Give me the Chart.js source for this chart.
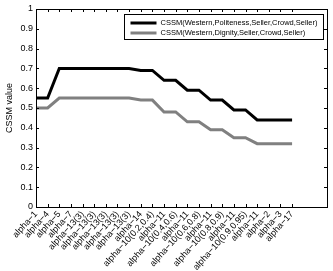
<!DOCTYPE html>
<html lang="en">
<head>
    <meta charset="UTF-8">
    <title>CSSM value</title>
    <script src="https://cdn.jsdelivr.net/npm/chart.js"></script>
    <style>
        body { margin: 0; background: #fff; }
        #wrap { width: 333px; height: 271px; position: relative; }
    </style>
</head>
<body>
    <div id="wrap"><canvas id="myChart"></canvas></div>

    <script>
        const categories = [
            'alpha\u22121', 'alpha\u22124', 'alpha\u22125', 'alpha\u22127',
            'alpha\u221213(3)', 'alpha\u221213(3)', 'alpha\u221213(3)', 'alpha\u221213(3)', 'alpha\u221213(3)',
            'alpha\u221214', 'alpha\u221210(0.2,0.4)', 'alpha\u221211',
            'alpha\u221210(0.4,0.6)', 'alpha\u221211', 'alpha\u221210(0.6,0.8)', 'alpha\u221211',
            'alpha\u221210(0.8,0.9)', 'alpha\u221211', 'alpha\u221210(0.9,0.95)', 'alpha\u221211',
            'alpha\u22122', 'alpha\u22123', 'alpha\u221217'
        ];
        const politeness = [0.55, 0.55, 0.70, 0.70, 0.70, 0.70, 0.70, 0.70, 0.70, 0.69, 0.69, 0.64,
                            0.64, 0.59, 0.59, 0.54, 0.54, 0.49, 0.49, 0.44, 0.44, 0.44, 0.44];
        const dignity = [0.50, 0.50, 0.55, 0.55, 0.55, 0.55, 0.55, 0.55, 0.55, 0.54, 0.54, 0.48,
                         0.48, 0.43, 0.43, 0.39, 0.39, 0.35, 0.35, 0.32, 0.32, 0.32, 0.32];
        const seriesNames = ['CSSM(Western,Politeness,Seller,Crowd,Seller)', 'CSSM(Western,Dignity,Seller,Crowd,Seller)'];

        const FONT = 'Liberation Sans, Arial, Helvetica, sans-serif';

        // frame, inward tick marks and the boxed legend (matlab look)
        const matlabAxes = {
            id: 'matlabAxes',
            afterDraw(chart) {
                const ctx = chart.ctx;
                const a = chart.chartArea;
                const xs = chart.scales.x, ys = chart.scales.y;
                ctx.save();
                ctx.strokeStyle = '#000';
                ctx.lineWidth = 1;
                ctx.beginPath();
                xs.ticks.forEach(t => {
                    const px = Math.round(xs.getPixelForValue(t.value)) + 0.5;
                    ctx.moveTo(px, a.bottom); ctx.lineTo(px, a.bottom - 3);
                    ctx.moveTo(px, a.top); ctx.lineTo(px, a.top + 3);
                });
                ys.ticks.forEach(t => {
                    const py = Math.round(ys.getPixelForValue(t.value)) + 0.5;
                    ctx.moveTo(a.left, py); ctx.lineTo(a.left + 3, py);
                    ctx.moveTo(a.right, py); ctx.lineTo(a.right - 3, py);
                });
                ctx.stroke();
                ctx.strokeRect(Math.round(a.left) + 0.5, Math.round(a.top) + 0.5,
                               Math.round(a.right - a.left), Math.round(a.bottom - a.top));

                // legend
                ctx.font = '7.5px ' + FONT;
                const ds = chart.data.datasets;
                const tw = Math.max(...ds.map(d => ctx.measureText(d.label).width));
                const w = Math.round(36 + tw + 6), h = 25;
                const lx = Math.round(a.right - 4 - w) + 0.5, ly = Math.round(a.top + 5) + 0.5;
                ctx.fillStyle = '#fff';
                ctx.fillRect(lx, ly, w, h);
                ctx.strokeRect(lx, ly, w, h);
                ds.forEach((d, i) => {
                    const y = ly + 8.5 + i * 10;
                    ctx.strokeStyle = d.borderColor;
                    ctx.lineWidth = d.borderWidth;
                    ctx.beginPath();
                    ctx.moveTo(lx + 6, y); ctx.lineTo(lx + 32, y);
                    ctx.stroke();
                    ctx.fillStyle = '#000';
                    ctx.textBaseline = 'middle';
                    ctx.fillText(d.label, lx + 36, y);
                });
                ctx.restore();
            }
        };

        const ctx = document.getElementById('myChart').getContext('2d');
        new Chart(ctx, {
            type: 'line',
            data: {
                datasets: [
                    {
                        label: seriesNames[0],
                        data: politeness.map((v, i) => ({ x: i, y: v })),
                        borderColor: '#000000',
                        borderWidth: 3
                    },
                    {
                        label: seriesNames[1],
                        data: dignity.map((v, i) => ({ x: i, y: v })),
                        borderColor: '#808080',
                        borderWidth: 3
                    }
                ]
            },
            options: {
                responsive: true,
                maintainAspectRatio: false,
                animation: false,
                devicePixelRatio: 1,
                layout: { padding: { top: 9, right: 6, left: 0, bottom: 0 } },
                elements: {
                    point: { radius: 0 },
                    line: { tension: 0, borderJoinStyle: 'miter', borderCapStyle: 'butt', fill: false }
                },
                plugins: {
                    legend: { display: false },
                    tooltip: { enabled: false }
                },
                scales: {
                    x: {
                        type: 'linear',
                        position: 'bottom',
                        min: 0,
                        max: 25,
                        afterBuildTicks: s => {
                            s.ticks = categories.map((_, i) => ({ value: i }));
                        },
                        afterFit: s => { s.height = 64; },
                        grid: { display: false, drawTicks: false },
                        border: { display: false },
                        ticks: {
                            autoSkip: false,
                            maxRotation: 48,
                            minRotation: 48,
                            padding: 2,
                            color: '#000',
                            font: { family: FONT, size: 9 },
                            callback: v => categories[v] ?? ''
                        }
                    },
                    y: {
                        min: 0,
                        max: 1,
                        afterFit: s => { s.width = 36; },
                        grid: { display: false, drawTicks: false },
                        border: { display: false },
                        ticks: {
                            stepSize: 0.1,
                            padding: 3,
                            color: '#000',
                            font: { family: FONT, size: 9 },
                            callback: v => String(Number(v.toFixed(1)))
                        },
                        title: {
                            display: true,
                            text: 'CSSM value',
                            color: '#000',
                            font: { family: FONT, size: 9 },
                            padding: { top: 4, bottom: 0 }
                        }
                    }
                }
            },
            plugins: [matlabAxes]
        });
    </script>
</body>
</html>
